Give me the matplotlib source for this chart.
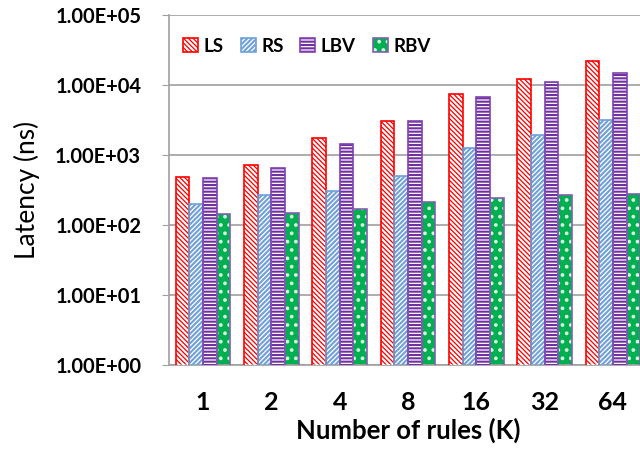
import matplotlib
matplotlib.use("Agg")
import matplotlib.pyplot as plt
import numpy as np

categories = ["1", "2", "4", "8", "16", "32", "64"]
LS = [490, 720, 1750, 3050, 7400, 12100, 21900]
RS = [200, 268, 310, 505, 1250, 1930, 3200]
LBV = [470, 660, 1440, 3050, 6650, 10900, 14700]
RBV = [142, 148, 170, 210, 243, 270, 280]
ytick_labels = ["1.00E+00", "1.00E+01", "1.00E+02", "1.00E+03", "1.00E+04", "1.00E+05"]

plt.rcParams['font.family'] = ['Lato', 'DejaVu Sans']
plt.rcParams['hatch.linewidth'] = 1.5

fig = plt.figure(figsize=(6.4, 4.53), dpi=100)
ax = fig.add_axes([169/640, (453-365)/453, 478/640, 350/453])

x = np.arange(len(categories))
w = 0.2
series = [
    ("LS", LS, "#ff0000", "white", "\\\\\\\\\\\\\\", "#ff0000"),
    ("RS", RS, "white", "#6fa0d8", "///////", "#6fa0d8"),
    ("LBV", LBV, "white", "#7030a0", "-----", "#8040b0"),
    ("RBV", RBV, "#00b050", "#d8f5e0", "..", "#8060b0"),
]
handles = []
for i, (name, vals, bg, hc, hatch, ec) in enumerate(series):
    pos = x + (i - 1.5) * w
    b1 = ax.bar(pos, vals, w, color=bg, edgecolor='none', zorder=2)
    b2 = ax.bar(pos, vals, w, color='none', edgecolor=hc, hatch=hatch, linewidth=0, zorder=3)
    b3 = ax.bar(pos, vals, w, fill=False, edgecolor=ec, linewidth=1.2, zorder=4)
    handles.append((b1[0], b2[0], b3[0]))

ax.set_yscale('log')
ax.set_ylim(1, 1e5)
ax.set_xlim(-0.5, len(categories) - 0.5)
ax.set_yticks([10**k for k in range(6)])
ax.set_yticklabels(ytick_labels, fontweight='bold', fontsize=14.5)
ax.minorticks_off()
ax.set_xticks(x)
ax.set_xticklabels(categories, fontweight='bold', fontsize=18)
ax.tick_params(axis='x', length=0, pad=19)
ax.tick_params(axis='y', length=5, color='#a0a0a0', pad=15)
ax.yaxis.grid(True, color='#a0a0a0', linewidth=1.2, zorder=0)
ax.set_axisbelow(True)
for s in ['top', 'right']:
    ax.spines[s].set_visible(False)
ax.spines['left'].set_color('#a0a0a0')
ax.spines['bottom'].set_color('#a0a0a0')
ax.spines['left'].set_linewidth(1.2)
ax.spines['bottom'].set_linewidth(1.2)

ax.set_ylabel("Latency (ns)", fontsize=19)
ax.set_xlabel("Number of rules (K)", fontweight='bold', fontsize=18.5, labelpad=2)
ax.yaxis.set_label_coords(-0.27, 0.5)

leg = ax.legend(handles, [s[0] for s in series], ncol=4, frameon=False,
                loc='center left', bbox_to_anchor=(183/640, 1 - 46/453),
                bbox_transform=fig.transFigure,
                prop={'weight': 'bold', 'size': 13.5},
                handlelength=0.8, handleheight=0.8, handletextpad=0.3,
                columnspacing=0.9, borderpad=0, borderaxespad=0)

fig.savefig("out.png", dpi=100)
